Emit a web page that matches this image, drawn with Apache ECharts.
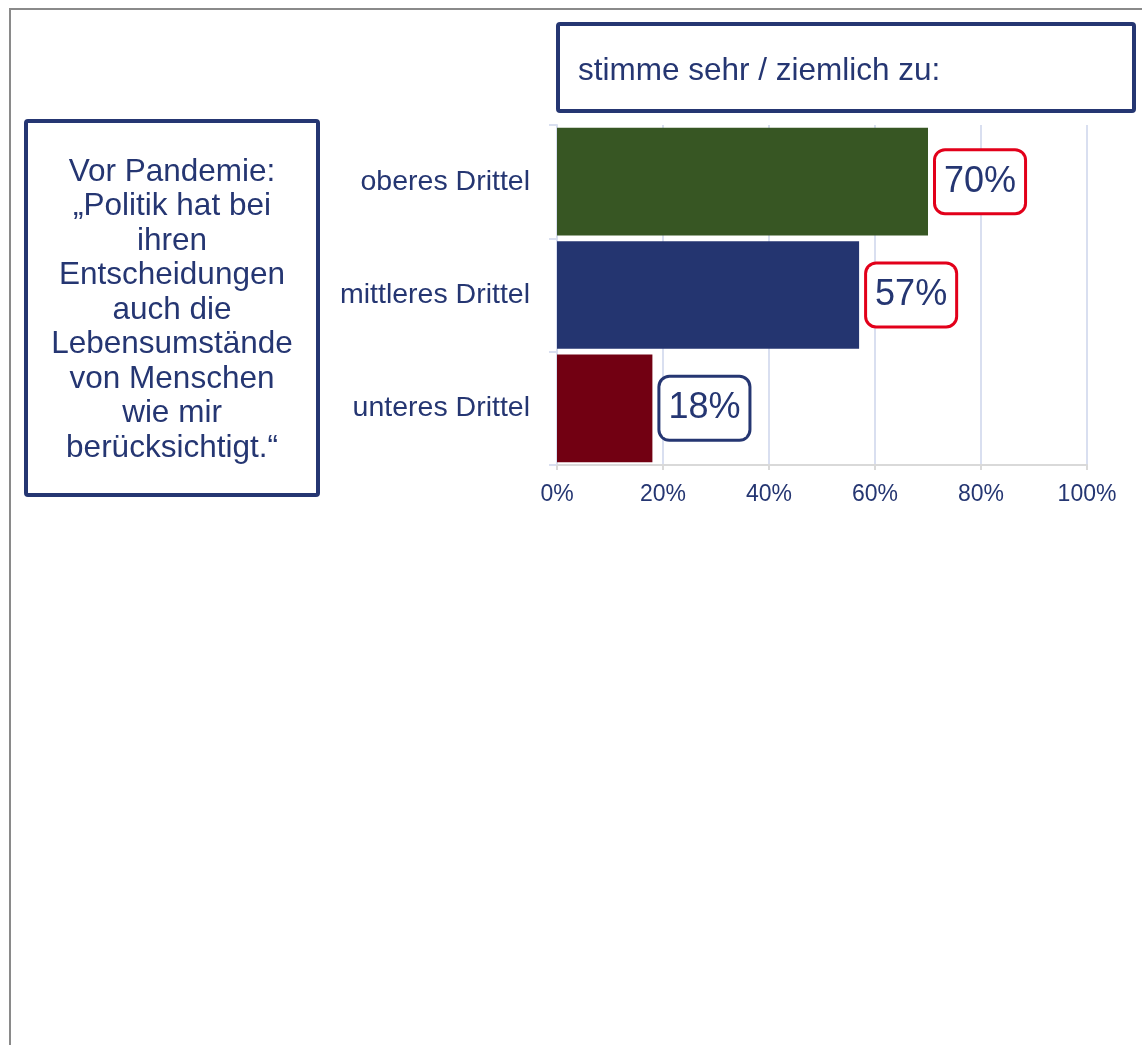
<!DOCTYPE html>
<html>
<head>
<meta charset="utf-8">
<title>Politik berücksichtigt Lebensumstände</title>
<script src="https://cdn.jsdelivr.net/npm/echarts@6/dist/echarts.min.js"></script>
<style>
  html, body { margin: 0; padding: 0; background: #fff; }
  #main { width: 1142px; height: 1045px; }
</style>
</head>
<body>
<div id="main"></div>
<script>
// Daten
const categories = ['oberes Drittel', 'mittleres Drittel', 'unteres Drittel'];
const values = [70, 57, 18];
const xTicks = [0, 20, 40, 60, 80, 100];
const headerText = 'stimme sehr / ziemlich zu:';
const questionText = 'Vor Pandemie:\n\u201EPolitik hat bei\nihren\nEntscheidungen\nauch die\nLebensumstände\nvon Menschen\nwie mir\nberücksichtigt.\u201C';

// Farben
const navy = '#253672';
const barColors = ['#375623', '#243570', '#720012'];
const labelBorders = ['#e2001a', '#e2001a', '#253672'];

const chart = echarts.init(document.getElementById('main'));

const option = {
  backgroundColor: '#fff',
  animation: false,
  textStyle: { fontFamily: 'Arial, "Liberation Sans", sans-serif' },
  grid: {
    left: 557,
    right: 55,
    top: 125,
    bottom: 580,
    containLabel: false
  },
  xAxis: {
    type: 'value',
    min: xTicks[0],
    max: xTicks[xTicks.length - 1],
    interval: xTicks[1] - xTicks[0],
    axisLine: { show: true, lineStyle: { color: '#d9d9d9', width: 2 } },
    axisTick: { show: true, length: 5, lineStyle: { color: '#d9d9d9', width: 2 } },
    splitLine: { show: true, lineStyle: { color: '#d9dff0', width: 2 } },
    axisLabel: {
      formatter: '{value}%',
      color: navy,
      fontSize: 23,
      margin: 18
    }
  },
  yAxis: {
    type: 'category',
    inverse: true,
    data: categories,
    axisLine: { show: true, lineStyle: { color: '#d9dff0', width: 2 } },
    axisTick: { show: true, length: 8, lineStyle: { color: '#d9dff0', width: 2 } },
    axisLabel: {
      color: navy,
      fontSize: 28.5,
      margin: 27
    }
  },
  series: [
    {
      type: 'bar',
      barCategoryGap: '5%',
      data: values.map((v, i) => ({
        value: v,
        itemStyle: { color: barColors[i] },
        label: { borderColor: labelBorders[i] }
      })),
      label: {
        show: true,
        position: 'right',
        distance: 8,
        formatter: '{c}%',
        color: navy,
        fontSize: 36,
        lineHeight: 40,
        backgroundColor: '#fff',
        borderWidth: 3,
        borderRadius: 9,
        padding: [11, 8, 10, 8]
      }
    }
  ],
  graphic: [
    // grauer Rahmen
    {
      type: 'rect',
      shape: { x: 10, y: 9, width: 1200, height: 1100 },
      style: { fill: 'none', stroke: '#8a8a8a', lineWidth: 2 },
      silent: true
    },
    // Kopfzeile
    {
      type: 'rect',
      shape: { x: 558, y: 24, width: 576, height: 87, r: 2 },
      style: { fill: '#fff', stroke: navy, lineWidth: 4 }
    },
    {
      type: 'text',
      x: 578,
      y: 71,
      style: {
        text: headerText,
        fill: navy,
        fontSize: 31.5,
        fontFamily: 'Arial, "Liberation Sans", sans-serif',
        align: 'left',
        verticalAlign: 'middle'
      }
    },
    // Frage links
    {
      type: 'rect',
      shape: { x: 26, y: 121, width: 292, height: 374, r: 2 },
      style: { fill: '#fff', stroke: navy, lineWidth: 4 }
    },
    {
      type: 'text',
      x: 172,
      y: 310,
      style: {
        text: questionText,
        fill: navy,
        fontSize: 31.5,
        lineHeight: 34.5,
        fontFamily: 'Arial, "Liberation Sans", sans-serif',
        align: 'center',
        verticalAlign: 'middle'
      }
    }
  ]
};

chart.setOption(option);
</script>
</body>
</html>
